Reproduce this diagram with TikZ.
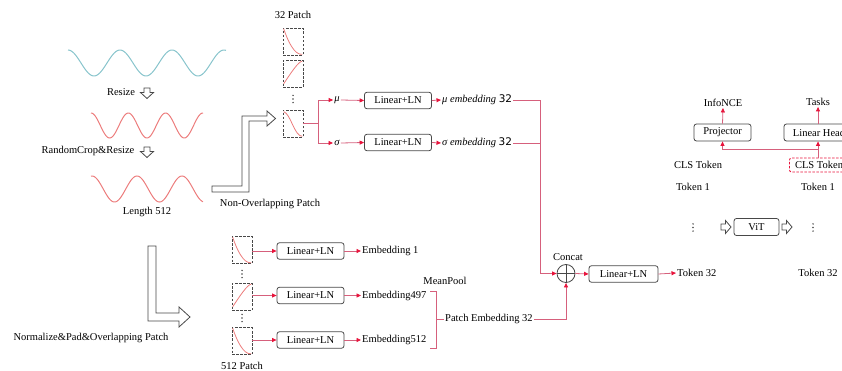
\documentclass[tikz,border=0pt]{standalone}
\usepackage{fontspec}
\setmainfont{Liberation Serif}
\newfontfamily\sansf{DejaVu Sans}
\usetikzlibrary{arrows.meta,calc}
\definecolor{linec}{RGB}{214,96,124}
\definecolor{tipc}{RGB}{232,20,60}
\definecolor{wavecyan}{RGB}{136,196,204}
\definecolor{wavered}{RGB}{236,124,124}
\definecolor{boxc}{RGB}{72,72,72}
\tikzset{
  txt/.style={font=\fontsize{10.5}{12}\selectfont, inner sep=1pt},
  lnbox/.style={txt, draw=boxc, rounded corners=2.5pt, line width=0.8pt, minimum width=67pt, minimum height=16.5pt, inner sep=0pt},
  patchbox/.style={draw=boxc, dash pattern=on 2.5pt off 1.6pt, line width=0.7pt, minimum width=20pt, minimum height=27pt, inner sep=0pt},
  conn/.style={draw=linec, line width=0.8pt},
  arr/.style={conn, -{Triangle[length=4.5pt,width=4pt,color=tipc]}},
  wave/.style={line width=1pt, smooth, samples=140},
  pcurve/.style={draw=wavered, line width=0.8pt},
  blockarrow/.style={draw=boxc, fill=white, line width=0.8pt, line join=miter},
}
\newcommand\fallcurve[1]{\draw[pcurve] ([shift={(1,1)}]#1.north west) .. controls ([shift={(5,13)}]#1.north west) and ([shift={(-9,0)}]#1.south east) .. ([shift={(-1,-1)}]#1.south east);}
\newcommand\scurve[1]{\draw[pcurve] ([shift={(1,2)}]#1.north west) .. controls ([shift={(8,4)}]#1.north west) and ([shift={(-9,-1)}]#1.south east) .. ([shift={(-1,-1)}]#1.south east);}
\newcommand\risecurve[1]{\draw[pcurve] ([shift={(1,-4)}]#1.south west) .. controls ([shift={(7,-13)}]#1.south west) and ([shift={(-5,1)}]#1.north east) .. ([shift={(-1,1)}]#1.north east);}
\newcommand\threedots[1]{\foreach \dd in {-3.6,0,3.6} \fill[boxc] ($(#1)+(0,\dd)$) circle (0.85);}
\begin{document}
\begin{tikzpicture}[x=1pt,y=-1pt]
\useasboundingbox (0,0) rectangle (842,371);

% ---- waves
\draw[wave, wavecyan, domain=68:226] plot (\x, {63-13*cos(6.923*(\x-120))});
\draw[wave, wavered, domain=91:203] plot (\x, {125.5-12.5*cos(9.651*(\x-91))});
\draw[wave, wavered, domain=91:203] plot (\x, {189-13*cos(8.0*(\x-137))});

\node[txt] (resize) at (121,92) {Resize};
\node[txt] (rcrop) at (88,151) {RandomCrop\&Resize};
\node[txt] (len) at (147,212) {Length 512};
\draw[blockarrow] (144,88) -- (150,88) -- (150,92.5) -- (153.5,92.5) -- (147,98.5) -- (140.5,92.5) -- (144,92.5) -- cycle;
\draw[blockarrow] (144,147) -- (150,147) -- (150,151.5) -- (153.5,151.5) -- (147,157.5) -- (140.5,151.5) -- (144,151.5) -- cycle;

% ---- L-shaped block arrows
\draw[blockarrow] (212,186) -- (242,186) -- (242,116) -- (267,116) -- (267,111) -- (275.5,118.5) -- (267,126) -- (267,121) -- (249,121) -- (249,192) -- (212,192) -- cycle;
\node[txt] (nonov) at (270,204) {Non-Overlapping Patch};
\draw[blockarrow] (148,246) -- (156,246) -- (156,313) -- (179,313) -- (179,307) -- (190,317) -- (179,327) -- (179,321) -- (148,321) -- cycle;
\node[txt] (norm) at (91,338) {Normalize\&Pad\&Overlapping Patch};

% ---- top patch column
\node[txt] (p32) at (293,15) {32 Patch};
\node[patchbox] (p1) at (293,41.5) {};
\node[patchbox] (p2) at (293,74) {};
\coordinate (pd) at (293,99);
\threedots{pd}
\node[patchbox] (p3) at (293,123.5) {};
\fallcurve{p1}
\risecurve{p2}
\scurve{p3}

\coordinate (br) at (318,123.5);
\node[txt] (mu) at (337,100) {\textit{μ}};
\node[txt] (sg) at (337,143) {\textit{σ}};
\draw[conn] (p3.east) -- (br);
\draw[arr] (br) |- (mu.west);
\draw[arr] (br) |- (sg.west);
\node[lnbox] (l1) at (398,100.5) {Linear+LN};
\node[lnbox] (l2) at (398,142.5) {Linear+LN};
\draw[arr] (mu.east) -- (l1.west);
\draw[arr] (sg.east) -- (l2.west);
\node[txt, anchor=west] (muemb) at (441,100) {\textit{μ embedding} {\sansf 32}};
\node[txt, anchor=west] (sgemb) at (441,143) {\textit{σ embedding} {\sansf 32}};
\draw[arr] (l1.east) -- (muemb.west);
\draw[arr] (l2.east) -- (sgemb.west);

% ---- concat
\node[draw=boxc, circle, line width=0.8pt, minimum size=18pt, inner sep=0pt] (cc) at (566,273.5) {};
\draw[boxc, line width=0.8pt] (cc.north) -- (cc.south) (cc.west) -- (cc.east);
\node[txt] (cclbl) at (568,257) {Concat};
\coordinate (cj) at (540,273.5);
\draw[arr] (muemb.east) -| (cj) -- (cc.west);
\draw[conn] (sgemb.east) -- (sgemb.east -| cj);
\node[lnbox, minimum width=69pt] (l3) at (623.5,274) {Linear+LN};
\draw[arr] (cc.east) -- (l3.west);
\node[txt, anchor=west] (tok32) at (676,273) {Token 32};
\draw[arr] (l3.east) -- (tok32.west);

% ---- bottom patch column
\node[patchbox] (b1) at (242,250) {};
\coordinate (bd1) at (242,274);
\threedots{bd1}
\node[patchbox] (b2) at (242,297) {};
\coordinate (bd2) at (242,318);
\threedots{bd2}
\node[patchbox] (b3) at (242,341) {};
\node[txt] (p512) at (242,366) {512 Patch};
\fallcurve{b1}
\risecurve{b2}
\fallcurve{b3}
\node[lnbox] (bl1) at (310.5,251) {Linear+LN};
\node[lnbox] (bl2) at (310.5,295.5) {Linear+LN};
\node[lnbox] (bl3) at (310.5,340) {Linear+LN};
\draw[arr] (b1.east |- bl1) -- (bl1.west);
\draw[arr] (b2.east |- bl2) -- (bl2.west);
\draw[arr] (b3.east |- bl3) -- (bl3.west);
\node[txt, anchor=west] (e1) at (361,251) {Embedding 1};
\node[txt, anchor=west] (e497) at (361,295.5) {Embedding497};
\node[txt, anchor=west] (e512) at (361,340) {Embedding512};
\draw[arr] (bl1.east) -- (e1.west);
\draw[arr] (bl2.east) -- (e497.west);
\draw[arr] (bl3.east) -- (e512.west);
\node[txt] (mp) at (445,281) {MeanPool};
\draw[conn] (430,291) -- (436,291) -- (436,348) -- (430,348);
\node[txt, anchor=west] (pe) at (444,319) {Patch Embedding 32};
\draw[conn] (436,319) -- (pe.west);
\draw[arr] (pe.east) -| (cc.south);

% ---- ViT side
\node[txt] (t1a) at (693,187) {Token 1};
\node[txt] (t1b) at (818,187) {Token 1};
\node[txt] (t32b) at (818,273) {Token 32};
\coordinate (vda) at (693,227.5);
\threedots{vda}
\coordinate (vdb) at (813,227.5);
\threedots{vdb}
\node[lnbox, minimum width=45pt, minimum height=17pt] (vit) at (756.5,227) {ViT};
\draw[blockarrow] (721,224) -- (725.5,224) -- (725.5,220.5) -- (731,227) -- (725.5,233.5) -- (725.5,230) -- (721,230) -- cycle;
\draw[blockarrow] (782,224) -- (786.5,224) -- (786.5,220.5) -- (792,227) -- (786.5,233.5) -- (786.5,230) -- (782,230) -- cycle;
\node[txt] (clsa) at (698,165) {CLS Token};
\node[txt, draw=tipc, dash pattern=on 2.5pt off 1.5pt, line width=0.8pt, rounded corners=2pt, minimum width=59pt, minimum height=14pt, inner sep=0pt] (clsb) at (819,165) {CLS Token};
\node[lnbox, minimum width=57pt, minimum height=17pt] (proj) at (722.5,132.5) {Projector};
\node[lnbox, minimum width=70pt, minimum height=17pt] (lh) at (819,132.5) {Linear Head};
\node[txt] (nce) at (723,103) {InfoNCE};
\node[txt] (tasks) at (818,102) {Tasks};
\coordinate (bj) at (818,149);
\draw[conn] (clsb.north -| bj) -- (bj);
\draw[arr] (bj) -- (bj |- lh.south);
\draw[arr] (bj) -| (proj.south);
\draw[arr] (proj.north) -- (nce.south);
\draw[arr] (lh.north -| tasks) -- (tasks.south);
\end{tikzpicture}
\end{document}
